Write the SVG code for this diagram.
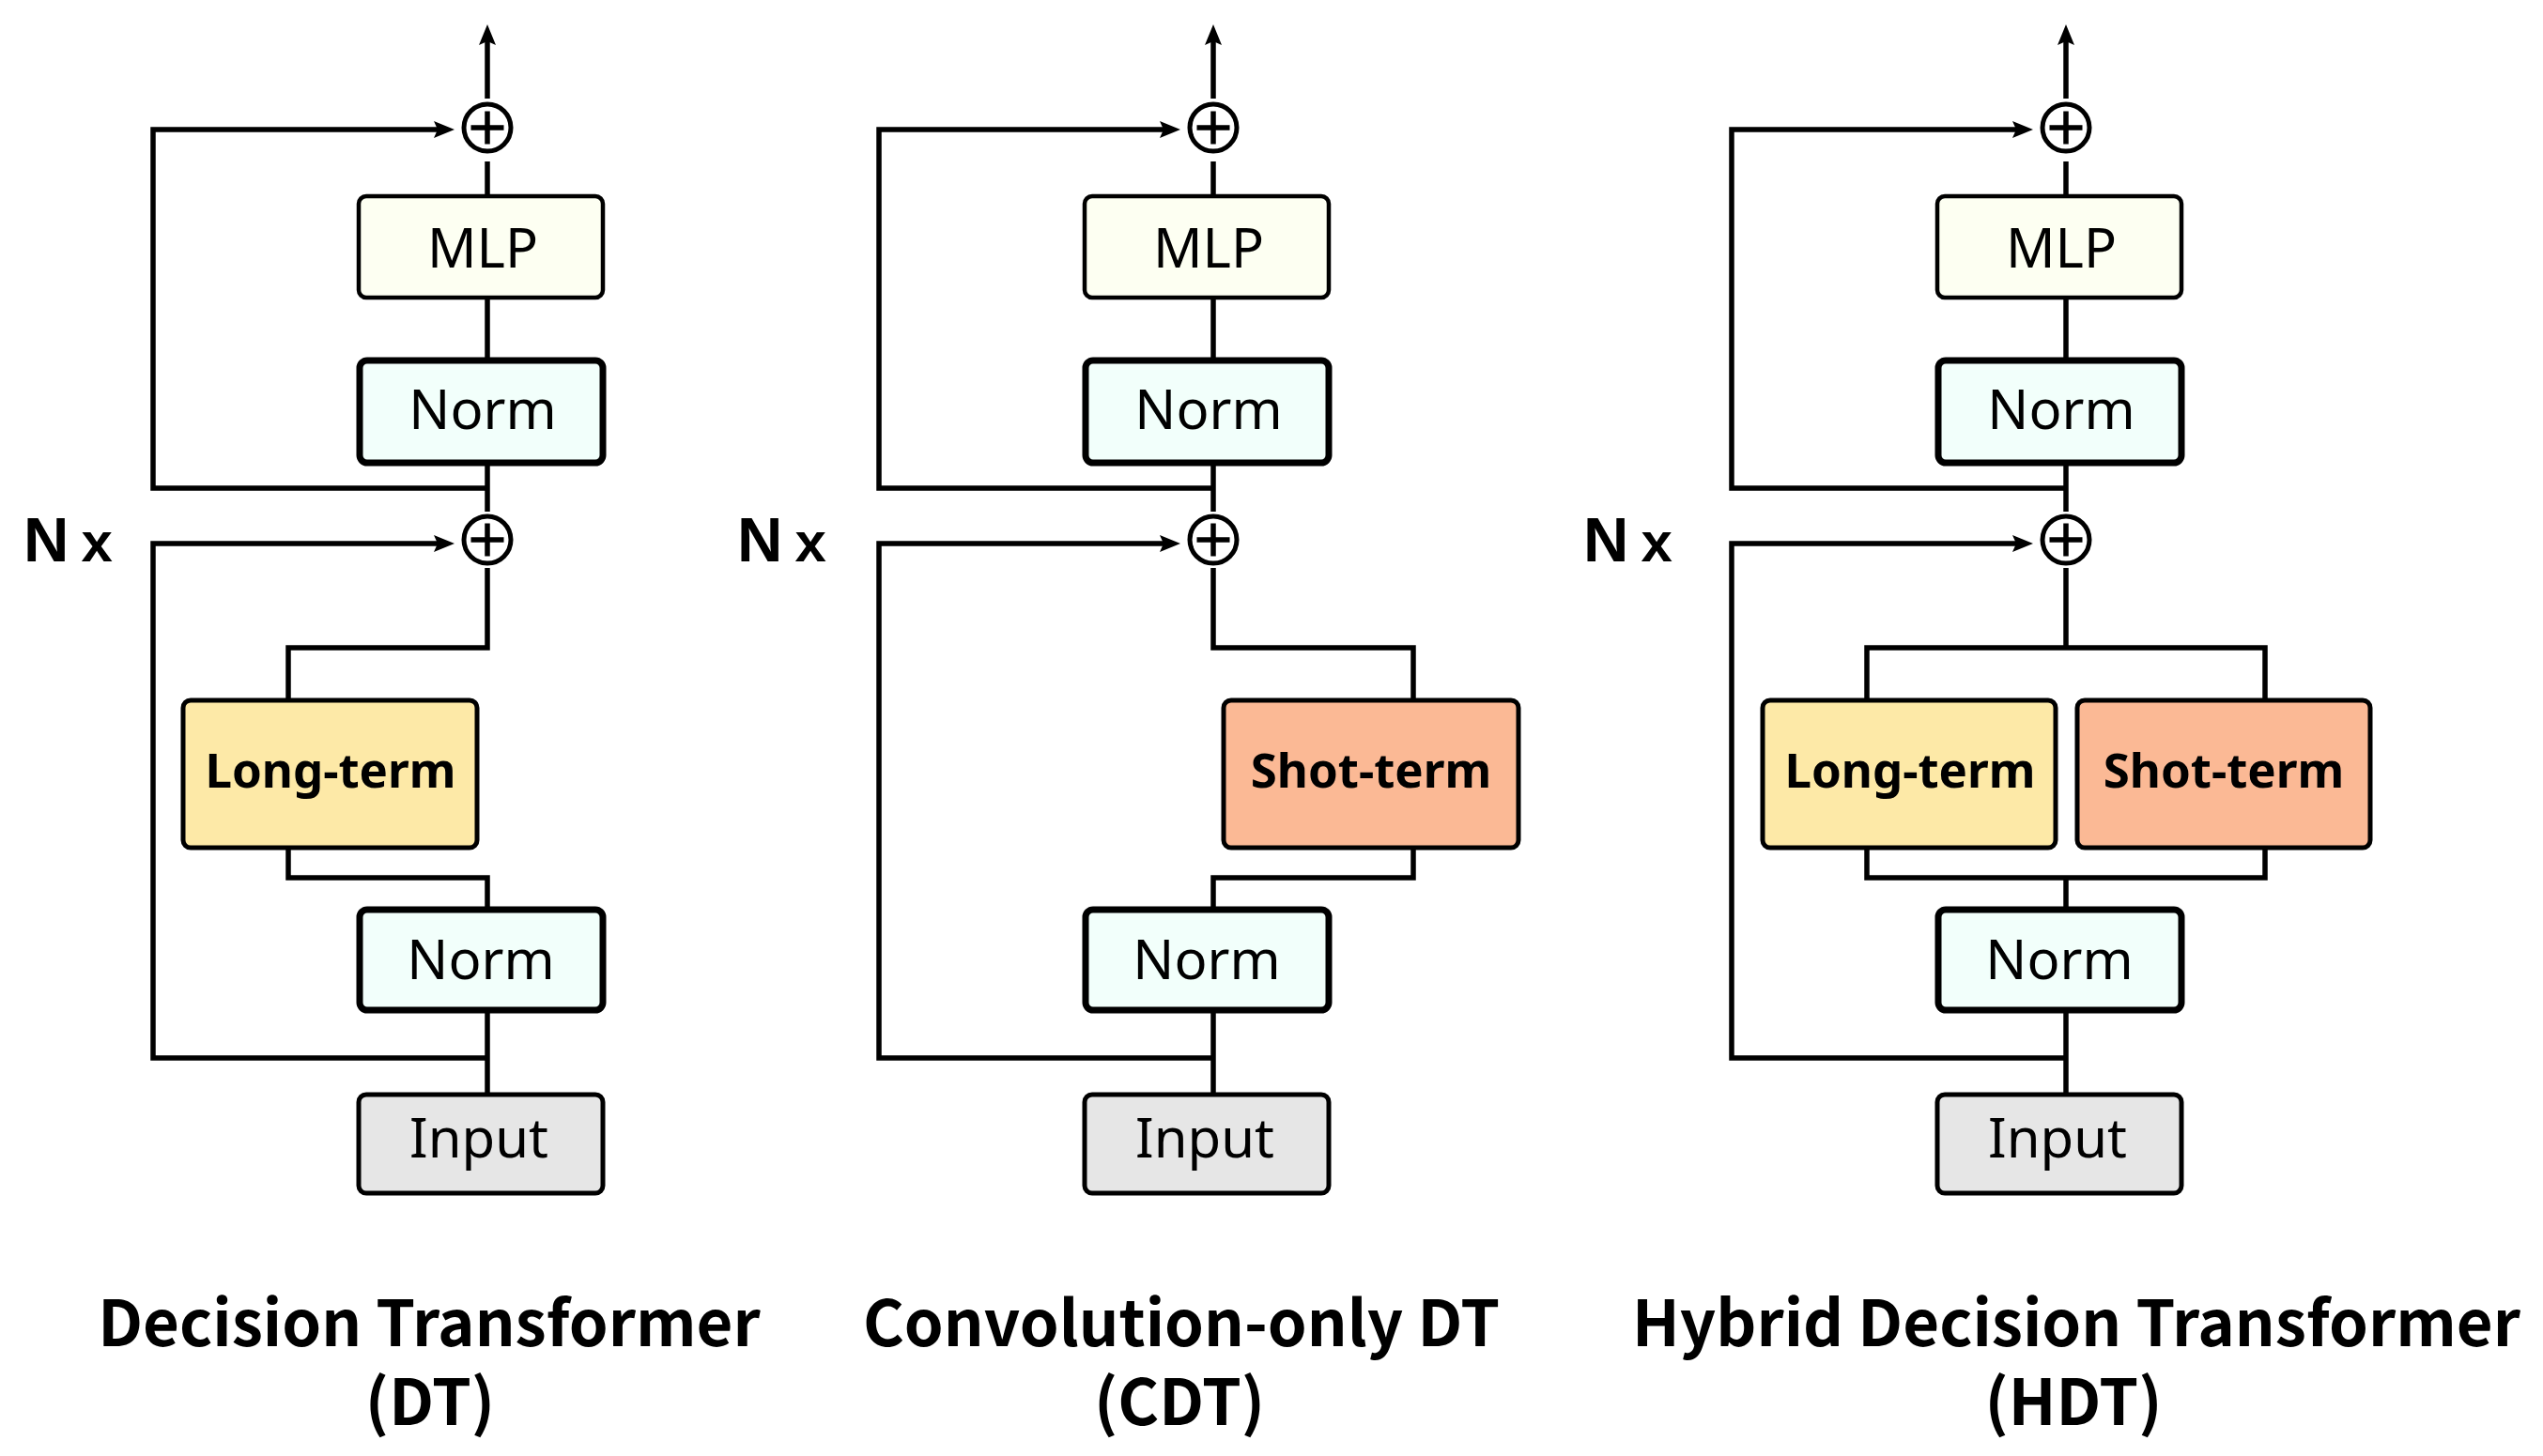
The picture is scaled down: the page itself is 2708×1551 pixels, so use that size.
<svg xmlns="http://www.w3.org/2000/svg" width="2708" height="1551" viewBox="0 0 2708 1551">
<defs>
<marker id="arr" markerUnits="userSpaceOnUse" markerWidth="24" markerHeight="20" refX="6" refY="9" orient="auto">
<path d="M0,0 L22,9 L0,18 L4,9 z" fill="#000"/>
</marker>
<style>
.ln{fill:none;stroke:#000;stroke-width:5.5;stroke-linejoin:miter}
.box{stroke:#000;stroke-width:5}
.mlp{fill:#fdfff2;stroke-width:4.5}
.norm{fill:#f2fffb;stroke-width:7}
.long{fill:#fde9a7}
.short{fill:#fbb995}
.inp{fill:#e6e6e6}
.lbl{font-family:"Noto Sans","DejaVu Sans",sans-serif;font-size:58px;text-anchor:middle;fill:#000}
.blbl{font-family:"Noto Sans","DejaVu Sans",sans-serif;font-size:51px;font-weight:bold;text-anchor:middle;fill:#000}
.nx{font-family:"Liberation Sans",Arial,sans-serif;font-size:67px;font-weight:bold;fill:#000}
.nx tspan{font-size:60px}
.ttl{font-family:"Noto Sans CJK SC","Noto Sans",sans-serif;font-size:67px;font-weight:bold;text-anchor:middle;fill:#000}
.sum{fill:#fff;stroke:#000;stroke-width:5}
</style>
</defs>
<rect width="2708" height="1551" fill="#fff"/>

<!-- Panel 1: DT -->
<g id="panel-dt">
<g id="dt-connectors">
<path class="ln" d="M519,105 V42" marker-end="url(#arr)"/>
<path class="ln" d="M519,520 H163 V138 H468" marker-end="url(#arr)"/>
<path class="ln" d="M519,1127 H163 V579 H468" marker-end="url(#arr)"/>
<path class="ln" d="M519,209 V172"/>
<path class="ln" d="M519,383 V317"/>
<path class="ln" d="M519,545 V493"/>
<path class="ln" d="M519,605 V690 H307 V746"/>
<path class="ln" d="M307,903 V935 H519 V969"/>
<path class="ln" d="M519,1076 V1166"/>
</g>
<g id="dt-sum-top"><circle class="sum" cx="519" cy="136" r="25"/><path class="ln" d="M501.5,136 H536.5 M519,118.5 V153.5"/></g>
<g id="dt-sum-mid"><circle class="sum" cx="519" cy="575" r="25"/><path class="ln" d="M501.5,575 H536.5 M519,557.5 V592.5"/></g>
<g id="dt-mlp"><rect class="box mlp" x="382" y="209" width="260" height="108" rx="8"/><text class="lbl" x="514" y="285">MLP</text></g>
<g id="dt-norm1"><rect class="box norm" x="383" y="384" width="259" height="109" rx="8"/><text class="lbl" x="514" y="457">Norm</text></g>
<g id="dt-long"><rect class="box long" x="195" y="746" width="313" height="157" rx="8"/><text class="blbl" x="352" y="839">Long-term</text></g>
<g id="dt-norm2"><rect class="box norm" x="383" y="969" width="259" height="107" rx="8"/><text class="lbl" x="512" y="1043">Norm</text></g>
<g id="dt-input"><rect class="box inp" x="382" y="1166" width="260" height="105" rx="8"/><text class="lbl" x="510" y="1233">Input</text></g>
<text id="dt-nx" class="nx" x="25" y="598">N<tspan dx="13">x</tspan></text>
<text id="dt-title" class="ttl" x="457" y="1434">Decision Transformer</text>
<text id="dt-title2" class="ttl" x="458" y="1518">(DT)</text>
</g>

<!-- Panel 2: CDT -->
<g id="panel-cdt">
<g id="cdt-connectors" transform="translate(773,0)">
<path class="ln" d="M519,105 V42" marker-end="url(#arr)"/>
<path class="ln" d="M519,520 H163 V138 H468" marker-end="url(#arr)"/>
<path class="ln" d="M519,1127 H163 V579 H468" marker-end="url(#arr)"/>
<path class="ln" d="M519,209 V172"/>
<path class="ln" d="M519,383 V317"/>
<path class="ln" d="M519,545 V493"/>
<path class="ln" d="M519,605 V690 H732 V746"/>
<path class="ln" d="M732,903 V935 H519 V969"/>
<path class="ln" d="M519,1076 V1166"/>
</g>
<g transform="translate(773,0)">
<g id="cdt-sum-top"><circle class="sum" cx="519" cy="136" r="25"/><path class="ln" d="M501.5,136 H536.5 M519,118.5 V153.5"/></g>
<g id="cdt-sum-mid"><circle class="sum" cx="519" cy="575" r="25"/><path class="ln" d="M501.5,575 H536.5 M519,557.5 V592.5"/></g>
<g id="cdt-mlp"><rect class="box mlp" x="382" y="209" width="260" height="108" rx="8"/><text class="lbl" x="514" y="285">MLP</text></g>
<g id="cdt-norm1"><rect class="box norm" x="383" y="384" width="259" height="109" rx="8"/><text class="lbl" x="514" y="457">Norm</text></g>
<g id="cdt-short"><rect class="box short" x="530" y="746" width="314" height="157" rx="8"/><text class="blbl" x="687" y="839">Shot-term</text></g>
<g id="cdt-norm2"><rect class="box norm" x="383" y="969" width="259" height="107" rx="8"/><text class="lbl" x="512" y="1043">Norm</text></g>
<g id="cdt-input"><rect class="box inp" x="382" y="1166" width="260" height="105" rx="8"/><text class="lbl" x="510" y="1233">Input</text></g>
</g>
<text id="cdt-nx" class="nx" x="785" y="598">N<tspan dx="13">x</tspan></text>
<text id="cdt-title" class="ttl" x="1258" y="1434">Convolution-only DT</text>
<text id="cdt-title2" class="ttl" x="1256" y="1518">(CDT)</text>
</g>

<!-- Panel 3: HDT -->
<g id="panel-hdt">
<g id="hdt-connectors" transform="translate(1681,0)">
<path class="ln" d="M519,105 V42" marker-end="url(#arr)"/>
<path class="ln" d="M519,520 H163 V138 H468" marker-end="url(#arr)"/>
<path class="ln" d="M519,1127 H163 V579 H468" marker-end="url(#arr)"/>
<path class="ln" d="M519,209 V172"/>
<path class="ln" d="M519,383 V317"/>
<path class="ln" d="M519,545 V493"/>
<path class="ln" d="M519,605 V690"/>
<path class="ln" d="M307,746 V690 H731 V746"/>
<path class="ln" d="M307,903 V935 H731 V903"/>
<path class="ln" d="M519,935 V969"/>
<path class="ln" d="M519,1076 V1166"/>
</g>
<g transform="translate(1681,0)">
<g id="hdt-sum-top"><circle class="sum" cx="519" cy="136" r="25"/><path class="ln" d="M501.5,136 H536.5 M519,118.5 V153.5"/></g>
<g id="hdt-sum-mid"><circle class="sum" cx="519" cy="575" r="25"/><path class="ln" d="M501.5,575 H536.5 M519,557.5 V592.5"/></g>
<g id="hdt-mlp"><rect class="box mlp" x="382" y="209" width="260" height="108" rx="8"/><text class="lbl" x="514" y="285">MLP</text></g>
<g id="hdt-norm1"><rect class="box norm" x="383" y="384" width="259" height="109" rx="8"/><text class="lbl" x="514" y="457">Norm</text></g>
<g id="hdt-long"><rect class="box long" x="196" y="746" width="312" height="157" rx="8"/><text class="blbl" x="353" y="839">Long-term</text></g>
<g id="hdt-short"><rect class="box short" x="531" y="746" width="312" height="157" rx="8"/><text class="blbl" x="687" y="839">Shot-term</text></g>
<g id="hdt-norm2"><rect class="box norm" x="383" y="969" width="259" height="107" rx="8"/><text class="lbl" x="512" y="1043">Norm</text></g>
<g id="hdt-input"><rect class="box inp" x="382" y="1166" width="260" height="105" rx="8"/><text class="lbl" x="510" y="1233">Input</text></g>
</g>
<text id="hdt-nx" class="nx" x="1686" y="598">N<tspan dx="13">x</tspan></text>
<text id="hdt-title" class="ttl" x="2211" y="1434">Hybrid Decision Transformer</text>
<text id="hdt-title2" class="ttl" x="2208" y="1518">(HDT)</text>
</g>
</svg>
